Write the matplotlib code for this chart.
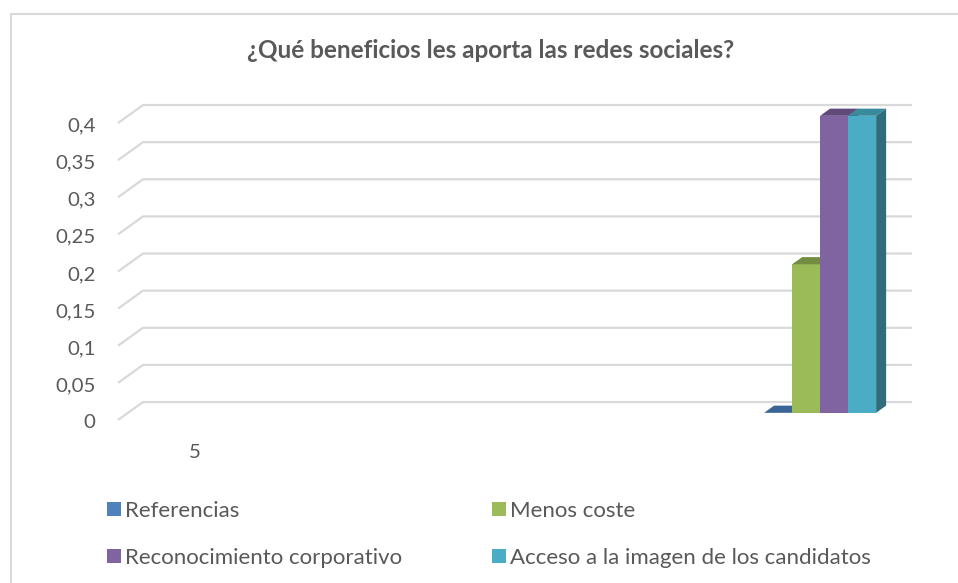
import matplotlib.pyplot as plt
from matplotlib.patches import Polygon, Rectangle

plt.rcParams['font.family'] = ['Lato', 'DejaVu Sans']

# data
categories = ["5", "", "", ""]
series = ["Referencias", "Menos coste", "Reconocimiento corporativo",
          "Acceso a la imagen de los candidatos"]
values = [0, 0.2, 0.4, 0.4]          # all in the last category
bar_cat = 3
yticks = [0, 0.05, 0.1, 0.15, 0.2, 0.25, 0.3, 0.35, 0.4]
ytick_labels = ["0", "0,05", "0,1", "0,15", "0,2", "0,25", "0,3", "0,35", "0,4"]

front = ["#4F81BD", "#9BBB59", "#8064A2", "#4BACC6"]
top = ["#3B6496", "#748C42", "#5F4A7A", "#3A8A9E"]
side = ["#335780", "#657A39", "#523F69", "#2F6C7C"]
txt = "#595959"
grid_c = "#D9D9D9"

W, H = 958, 583
fig = plt.figure(figsize=(W / 100, H / 100), dpi=100)

# outer chart border
fig.add_artist(Rectangle((11 / W, -0.05), 1.1, (H - 14) / H + 0.05,
                         transform=fig.transFigure, fill=False,
                         edgecolor="#D9D9D9", lw=1.5))

# axes = front plane of the 3D box
left, right, y0, y1 = 118, 887, 420, 123
ax = fig.add_axes([left / W, 1 - y0 / H, (right - left) / W, (y0 - y1) / H])
xmin, xmax = -0.375, len(categories) - 0.625
ax.set_xlim(xmin, xmax)
ax.set_ylim(0, 0.4)
ax.axis("off")

DX = 25 / 205.0     # depth offset (category units)
DY = 0.0242         # depth offset (value units)

# back wall gridlines with left wall diagonals
for v in yticks:
    ax.plot([xmin, xmin + DX, xmax + DX], [v, v + DY, v + DY],
            color=grid_c, lw=1.6, clip_on=False, zorder=1,
            solid_capstyle="butt")

for v, lab in zip(yticks, ytick_labels):
    ax.text(xmin - 0.11, v - 0.004, lab, ha="right", va="center",
            fontsize=14.7, color=txt)

for i, c in enumerate(categories):
    ax.text(i, -0.044, c, ha="center", va="center", fontsize=14.7, color=txt)

# 3D bars
bw = 0.1366
f0, f1 = 0.4, 0.8
start = bar_cat - bw * len(series) / 2
for k, (val, name) in enumerate(zip(values, series)):
    xa = start + k * bw + DX * f0
    xb = xa + bw
    ya = DY * f0
    yb = ya + val
    ddx, ddy = DX * (f1 - f0), DY * (f1 - f0)
    z = 3 + k
    ax.add_patch(Rectangle((xa, ya), bw, val, facecolor=front[k],
                           edgecolor="none", clip_on=False, zorder=z))
    ax.add_patch(Polygon([(xa, yb), (xb, yb), (xb + ddx, yb + ddy),
                          (xa + ddx, yb + ddy)], closed=True,
                         facecolor=top[k], edgecolor="none",
                         clip_on=False, zorder=z))
    ax.add_patch(Polygon([(xb, ya), (xb + ddx, ya + ddy), (xb + ddx, yb + ddy),
                          (xb, yb)], closed=True, facecolor=side[k],
                         edgecolor="none", clip_on=False, zorder=z))

fig.text(491 / W, 1 - 50 / H, "¿Qué beneficios les aporta las redes sociales?",
         ha="center", va="center", fontsize=17.5, fontweight="bold", color=txt)

handles = [Rectangle((0, 0), 1, 1, facecolor=c, edgecolor="none") for c in front]
order = [0, 2, 1, 3]
leg = fig.legend([handles[i] for i in order], [series[i] for i in order],
                 ncol=2, loc="upper left", bbox_to_anchor=(87 / W, 1 - 481 / H),
                 frameon=False, fontsize=16, handlelength=0.63,
                 handleheight=0.63, handletextpad=0.17, columnspacing=4.06,
                 labelspacing=1.2, labelcolor=txt)

fig.savefig("out.png", dpi=100)
